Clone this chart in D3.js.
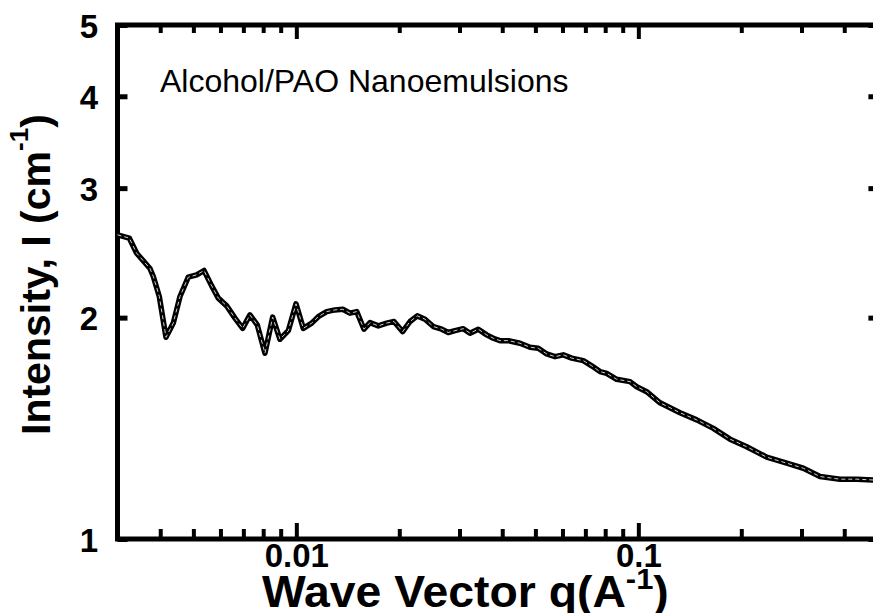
<!DOCTYPE html>
<html lang="en">
<head>
    <meta charset="UTF-8">
    <title>Alcohol/PAO Nanoemulsions</title>
    <style>
        body {
            margin: 0;
            background: #fff
        }
        svg {
            display: block;
            margin: 0;
            font-family: "Liberation Sans", Arial, sans-serif
        }
        svg .frame {
            fill: none;
            stroke: #000;
            stroke-width: 5px
        }
        svg .axis .domain {
            display: none
        }
        svg .axis line {
            stroke: #000
        }
        svg .x-axis line {
            stroke-width: 4px
        }
        svg .y-axis line {
            stroke-width: 5px
        }
        svg .tick-label {
            font-weight: bold;
            fill: #000
        }
        svg .title {
            font-weight: bold;
            fill: #000
        }
        svg .curve {
            fill: none;
            stroke: #000;
            stroke-width: 5.5px;
            stroke-linejoin: round
        }
        svg .curve-core {
            fill: none;
            stroke: #d0d0d0;
            stroke-width: 1px;
            stroke-dasharray: 4 3
        }
        svg .note {
            font-size: 32px;
            fill: #000
        }
    </style>
</head>
<body>

<div id="chart"></div>

<script src="https://cdnjs.cloudflare.com/ajax/libs/d3/7.8.5/d3.min.js"></script>
<script>
  // wave vector q (1/A)
  var qValues = [
    0.0030, 0.003247, 0.003413, 0.003733, 0.003818, 0.003975, 0.004158, 0.004368,
    0.004569, 0.004831, 0.005112, 0.005370, 0.005656, 0.005913, 0.006257, 0.006617,
    0.006967, 0.007317, 0.007687, 0.008096, 0.008527, 0.008956, 0.009474, 0.009977,
    0.01048, 0.01109, 0.01159, 0.01227, 0.01297, 0.01367, 0.01435, 0.01502,
    0.01577, 0.01642, 0.01737, 0.01837, 0.01930, 0.02046, 0.02150, 0.02258,
    0.02378, 0.02515, 0.02661, 0.02782, 0.02911, 0.03077, 0.03219, 0.03404,
    0.03602, 0.03766, 0.03939, 0.04167, 0.04508, 0.04822, 0.05099, 0.05396,
    0.05706, 0.06034, 0.06385, 0.06905, 0.07304, 0.07724, 0.08079, 0.08642,
    0.09454, 0.09890, 0.1058, 0.1157, 0.1324, 0.1482, 0.1657, 0.1854,
    0.2074, 0.2373, 0.2716, 0.3037, 0.3398, 0.3888, 0.4350, 0.4857, 0.5
  ];
  // intensity I (1/cm)
  var intensity = [
    2.592, 2.566, 2.447, 2.333, 2.275, 2.137, 1.881, 1.966,
    2.137, 2.270, 2.287, 2.318, 2.209, 2.126, 2.075, 1.997,
    1.934, 2.017, 1.955, 1.789, 2.003, 1.869, 1.920, 2.088,
    1.934, 1.966, 2.006, 2.038, 2.049, 2.053, 2.028, 2.038,
    1.929, 1.969, 1.949, 1.966, 1.976, 1.914, 1.976, 2.011,
    1.990, 1.945, 1.929, 1.909, 1.920, 1.932, 1.905, 1.929,
    1.895, 1.875, 1.861, 1.861, 1.846, 1.823, 1.817, 1.785,
    1.770, 1.780, 1.762, 1.748, 1.720, 1.689, 1.680, 1.649,
    1.637, 1.611, 1.586, 1.532, 1.485, 1.452, 1.414, 1.367,
    1.335, 1.292, 1.268, 1.248, 1.216, 1.206, 1.206, 1.203, 1.203
  ];

  var xDomain = [0.003, 0.5],
    yDomain = [1, 5];
  var xMajorTicks = [0.01, 0.1],
    xMinorTicks = [0.004, 0.005, 0.006, 0.007, 0.008, 0.009,
      0.02, 0.03, 0.04, 0.05, 0.06, 0.07, 0.08, 0.09, 0.2, 0.3, 0.4],
    xTickLabels = ['0.01', '0.1'],
    yTicks = [1, 2, 3, 4, 5],
    yTickLabels = ['1', '2', '3', '4', '5'];

  var width = 873,
    height = 613,
    plot = {left: 117.5, right: 877.4, top: 25, bottom: 539};

  var data = qValues.map(function(q, i) {
    return {q: q, i: intensity[i]};
  });

  var x = d3.scaleLog().domain(xDomain).range([plot.left, plot.right]);
  var y = d3.scaleLog().domain(yDomain).range([plot.bottom, plot.top]);

  var svg = d3.select('#chart').append('svg')
    .attr('width', width)
    .attr('height', height);

  // bottom axis, ticks pointing inwards
  svg.append('g')
    .attr('class', 'axis x-axis')
    .attr('transform', 'translate(0,' + plot.bottom + ')')
    .call(d3.axisBottom(x).tickValues(xMinorTicks).tickSize(-10).tickFormat(''));

  var xMajor = svg.append('g')
    .attr('class', 'axis x-axis')
    .attr('transform', 'translate(0,' + plot.bottom + ')')
    .call(d3.axisBottom(x).tickValues(xMajorTicks).tickSize(-16)
      .tickFormat(function(d, i) { return xTickLabels[i]; }));

  xMajor.selectAll('text')
    .attr('class', 'tick-label')
    .attr('y', 28)
    .attr('dy', 0)
    .style('font-size', '33px');

  // top axis
  svg.append('g')
    .attr('class', 'axis x-axis')
    .attr('transform', 'translate(0,' + plot.top + ')')
    .call(d3.axisTop(x).tickValues(xMinorTicks).tickSize(-8).tickFormat(''));

  svg.append('g')
    .attr('class', 'axis x-axis')
    .attr('transform', 'translate(0,' + plot.top + ')')
    .call(d3.axisTop(x).tickValues(xMajorTicks).tickSize(-14).tickFormat(''));

  // left axis
  var yAxis = svg.append('g')
    .attr('class', 'axis y-axis')
    .attr('transform', 'translate(' + plot.left + ',0)')
    .call(d3.axisLeft(y).tickValues(yTicks).tickSize(-10).tickPadding(19.5)
      .tickFormat(function(d, i) { return yTickLabels[i]; }));

  yAxis.selectAll('text')
    .attr('class', 'tick-label')
    .attr('dy', '0.37em')
    .style('font-size', '33px');

  // right axis
  svg.append('g')
    .attr('class', 'axis y-axis')
    .attr('transform', 'translate(' + plot.right + ',0)')
    .call(d3.axisRight(y).tickValues(yTicks).tickSize(-9).tickFormat(''));

  svg.append('rect')
    .attr('class', 'frame')
    .attr('x', plot.left)
    .attr('y', plot.top)
    .attr('width', plot.right - plot.left)
    .attr('height', plot.bottom - plot.top);

  var line = d3.line()
    .x(function(d) { return x(d.q); })
    .y(function(d) { return y(d.i); });

  svg.append('path')
    .datum(data)
    .attr('class', 'curve')
    .attr('d', line);

  svg.append('path')
    .datum(data)
    .attr('class', 'curve-core')
    .attr('d', line);

  svg.append('text')
    .attr('class', 'note')
    .attr('x', 160)
    .attr('y', 92)
    .text('Alcohol/PAO Nanoemulsions');

  // axis titles
  var xTitle = svg.append('text')
    .attr('class', 'title')
    .attr('transform', 'translate(262,607) scale(1.03,1)')
    .style('font-size', '45px');
  xTitle.append('tspan').text('Wave Vector q(A');
  xTitle.append('tspan').attr('dy', -18).style('font-size', '30px').text('-1');
  xTitle.append('tspan').attr('dy', 18).text(')');

  var yTitle = svg.append('text')
    .attr('class', 'title')
    .attr('transform', 'translate(50,435) rotate(-90)')
    .style('font-size', '41px');
  yTitle.append('tspan').text('Intensity, I (cm');
  yTitle.append('tspan').attr('dy', -22).style('font-size', '26px').text('-1');
  yTitle.append('tspan').attr('dy', 22).text(')');
</script>

</body>
</html>
